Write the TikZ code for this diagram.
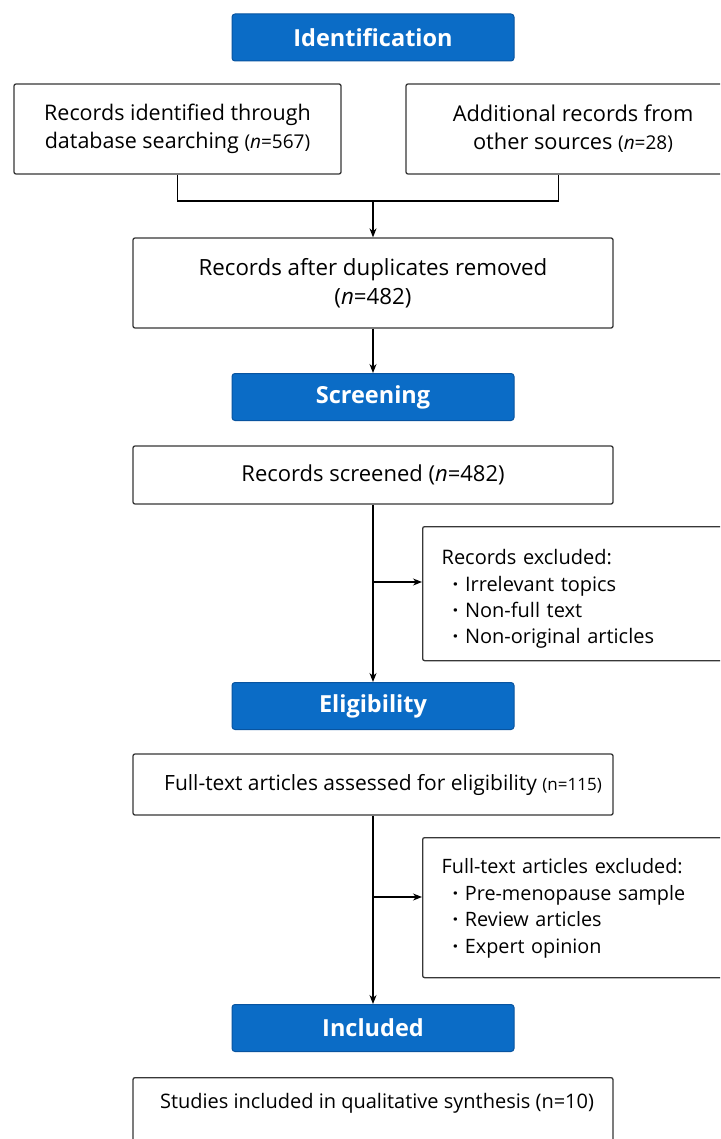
\documentclass[tikz,border=0pt]{standalone}
\usepackage{fontspec}
\setmainfont{Open Sans}
\usetikzlibrary{arrows.meta}
\definecolor{bannerblue}{RGB}{11,108,198}
\definecolor{banneredge}{RGB}{8,84,160}
\definecolor{boxedge}{RGB}{55,55,55}
\newcommand{\fsz}[2]{\fontsize{#1}{#2}\selectfont}
\newcommand{\bul}{\hspace*{11pt}{\bfseries\textperiodcentered}\ }
\tikzset{
  banner/.style={draw=banneredge, line width=1pt, fill=bannerblue, rounded corners=3pt,
    minimum width=282pt, minimum height=47pt, inner sep=0pt,
    text=white, font=\fsz{23.5}{26}\bfseries},
  box/.style={draw=boxedge, line width=1.3pt, rounded corners=2pt, fill=white,
    inner sep=0pt, align=center},
  listbox/.style={draw=boxedge, line width=1.3pt, rounded corners=2pt, fill=white,
    inner xsep=19pt, inner ysep=0pt, align=left, anchor=north west},
  conn/.style={draw=black, line width=1.2pt},
  arr/.style={conn, -{Stealth[length=9pt,width=7pt]}}
}
\begin{document}
\begin{tikzpicture}[x=1pt,y=-1pt]
\useasboundingbox (0,0) rectangle (720,1139);
\clip (0,0) rectangle (720,1139);
\fill[white] (0,0) rectangle (720,1139);

% banners
\node[banner] (h1) at (373,37.5) {Identification};
\node[banner] (h2) at (373,397) {Screening};
\node[banner] (h3) at (373,706) {Eligibility};
\node[banner] (h4) at (373,1028) {Included};

% identification boxes
\node[box, font=\fsz{21.5}{28}, minimum width=327pt, minimum height=90pt] (b1) at (177.5,129)
  {Records identified through\\database searching {\fsz{19}{20}(\textit{n}=567)}};
\node[box, font=\fsz{21.8}{28}, minimum width=334pt, minimum height=90pt] (b2) at (573,129)
  {Additional records from\\other sources {\fsz{19}{20}(\textit{n}=28)}};
\node[box, font=\fsz{22.3}{29}, minimum width=480pt, minimum height=90pt] (b3) at (373,283)
  {Records after duplicates removed\\(\textit{n}=482)};

% screening
\node[box, font=\fsz{22}{28}, minimum width=480pt, minimum height=58pt] (b4) at (373,475)
  {Records screened (\textit{n}=482)};
\node[listbox, font=\fsz{20}{26.3}, minimum width=320pt, minimum height=134pt, text width=282pt] (b5) at (422,526)
  {\rule{0pt}{26pt}Records excluded:\\
   \bul Irrelevant topics\\
   \bul Non-full text\\
   \bul Non-original articles};

% eligibility
\node[box, font=\fsz{21}{28}, minimum width=480pt, minimum height=61pt] (b6) at (373,784.5)
  {\hspace*{20pt}Full-text articles assessed for eligibility {\fsz{17}{20}(n=115)}};
\node[listbox, font=\fsz{19.8}{26.5}, minimum width=320pt, minimum height=140pt, text width=282pt] (b7) at (422,837)
  {\rule{0pt}{16pt}Full-text articles excluded:\\
   \bul Pre-menopause sample\\
   \bul Review articles\\
   \bul Expert opinion};

% included
\node[box, minimum width=480pt, minimum height=90pt, anchor=north] (b8) at (373,1077) {};
\node[font=\fsz{20}{28}, inner sep=0pt] (t8) at (377,1103) {Studies included in qualitative synthesis (n=10)};

% connectors
\coordinate (j1) at (373,201);
\coordinate (k1) at (373,582);
\coordinate (k2) at (373,897);
\draw[conn] (b1.south) |- (j1) -| ([xshift=153pt]b2.south west);
\draw[arr] (j1) -- (b3.north);
\draw[arr] (b3.south) -- (h2.north);
\draw[arr] (b4.south) -- (h3.north);
\draw[arr] (k1) -- (k1 -| b5.west);
\draw[arr] (b6.south) -- (h4.north);
\draw[arr] (k2) -- (k2 -| b7.west);
\end{tikzpicture}
\end{document}
